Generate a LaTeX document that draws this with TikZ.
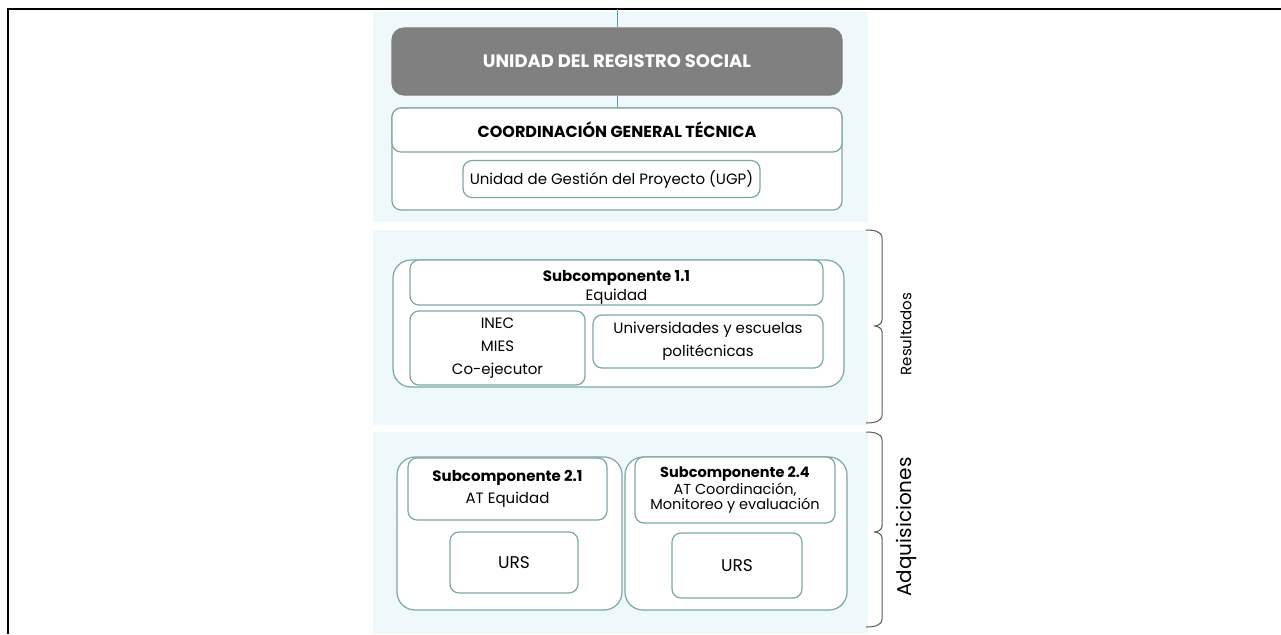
\documentclass[tikz,border=0pt]{standalone}
\usepackage{fontspec}
\setmainfont{Poppins}
\usepackage{xcolor}
\usepackage{tikz}
\usetikzlibrary{calc}
\definecolor{panelbg}{HTML}{EFF8FB}
\definecolor{edge}{HTML}{7BA7A6}
\definecolor{link}{HTML}{4E9DB3}
\definecolor{headbg}{HTML}{808080}
\definecolor{brace}{HTML}{5A5A5A}
\tikzset{
  frame/.style={draw=black, line width=2pt},
  panel/.style={fill=panelbg, draw=none},
  box/.style={draw=edge, fill=white, line width=1.2pt, rounded corners=9pt,
    inner sep=0pt, align=center, font=\fontsize{15}{23}\selectfont},
  outer/.style={box, rounded corners=18pt},
  head/.style={box, fill=headbg, draw=headbg, text=white, rounded corners=12pt,
    font=\fontsize{18}{20}\bfseries\selectfont},
  txt/.style={align=center, inner sep=0pt, font=\fontsize{15}{19}\selectfont},
  conn/.style={draw=link, line width=1pt},
  brc/.style={draw=brace, line width=1pt},
  side/.style={rotate=90, font=\fontsize{15}{18}\selectfont},
}
\begin{document}
\begin{tikzpicture}[x=1pt, y=-1pt]
  \useasboundingbox (0,0) rectangle (1281,634);
  % background panels
  \fill[panel] (373,12) rectangle (868,222);
  \fill[panel] (373,230) rectangle (868,425);
  \fill[panel] (373,432) rectangle (868,634);
  \draw[frame] (7,9) -- (1281,9);
  \draw[frame] (8,9) -- (8,634);
  % top unit
  \coordinate (top) at (617,9);
  \node[head, minimum width=450, minimum height=67] (urs) at (617,61.5) {UNIDAD DEL REGISTRO SOCIAL};
  \node[box, minimum width=450, minimum height=102] (cgtout) at (617,159) {};
  \node[box, minimum width=450, minimum height=44, font=\fontsize{16}{18}\bfseries\selectfont] (cgt) at (617,130) {COORDINACIÓN GENERAL TÉCNICA};
  \node[box, minimum width=297, minimum height=37] (ugp) at (611.5,179) {Unidad de Gestión del Proyecto (UGP)};
  \draw[conn] (top) -- (urs.north);
  \draw[conn] (urs.south) -- (cgt.north);
  % subcomponente 1.1
  \node[outer, minimum width=451, minimum height=127] (s11out) at (618.5,323.5) {};
  \node[box, minimum width=413, minimum height=45] (s11) at (616.5,282.5) {};
  \node[txt] (s11t) at (616.5,287) {\textbf{Subcomponente 1.1}\\Equidad};
  \node[box, minimum width=175, minimum height=74] (inec) at (497.5,348) {INEC\\MIES\\Co-ejecutor};
  \node[box, minimum width=230, minimum height=53] (univ) at (708,341.5) {Universidades y escuelas\\politécnicas};
  % subcomponentes 2.1 y 2.4
  \node[outer, minimum width=225, minimum height=153] (s21out) at (509.5,533.5) {};
  \node[box, minimum width=199, minimum height=62] (s21) at (507.5,489)
    {\textbf{Subcomponente 2.1}\\[-1pt]AT Equidad};
  \node[box, minimum width=128, minimum height=61, font=\fontsize{17}{20}\selectfont] (urs1) at (514,562.5) {URS};
  \node[outer, minimum width=222, minimum height=153] (s24out) at (736,533.5) {};
  \node[box, minimum width=200, minimum height=66, font=\fontsize{14.5}{15}\selectfont] (s24) at (735,490)
    {\textbf{Subcomponente 2.4}\\AT Coordinación,\\Monitoreo y evaluación};
  \node[box, minimum width=130, minimum height=65, font=\fontsize{17}{20}\selectfont] (urs2) at (737,565.5) {URS};
  % braces
  \draw[brc] (866,230) to[out=0,in=90] (882,238) -- (882,320) to[out=-90,in=0] (874,326)
    (874,326) to[out=0,in=90] (882,332) -- (882,415) to[out=-90,in=0] (866,423);
  \draw[brc] (866,432) to[out=0,in=90] (882,440) -- (882,526) to[out=-90,in=0] (874,532)
    (874,532) to[out=0,in=90] (882,538) -- (882,619) to[out=-90,in=0] (866,627);
  \node[side] (res) at (906,334) {Resultados};
  \node[side, font=\fontsize{20}{22}\selectfont] (adq) at (906,527) {Adquisiciones};
\end{tikzpicture}
\end{document}
